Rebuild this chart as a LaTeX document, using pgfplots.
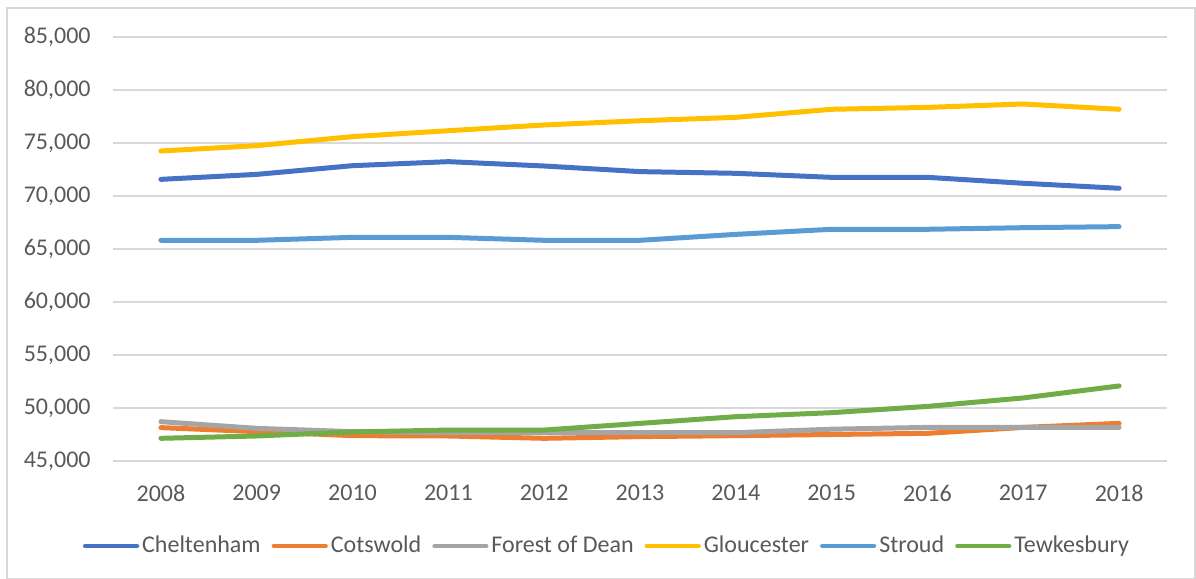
\documentclass[border=0pt]{standalone}
\usepackage{pgfplots}
\pgfplotsset{compat=1.18}
\usepackage{fontspec}
\setmainfont{Carlito}
\definecolor{cChel}{HTML}{4472C4}
\definecolor{cCots}{HTML}{ED7D31}
\definecolor{cFor}{HTML}{A5A5A5}
\definecolor{cGlo}{HTML}{FFC000}
\definecolor{cStr}{HTML}{5B9BD5}
\definecolor{cTew}{HTML}{70AD47}
\definecolor{cGrid}{HTML}{D9D9D9}
\definecolor{cText}{HTML}{595959}
\begin{document}
\begin{tikzpicture}
\path[use as bounding box] (0,0) rectangle (598bp,289.5bp);
\draw[cGrid, line width=1bp] (3.5bp,0.25bp) rectangle (597.5bp,285.5bp);
\begin{axis}[
  at={(56.5bp,59bp)}, anchor=south west,
  scale only axis,
  width=527bp, height=212bp,
  xmin=-0.5, xmax=10.5,
  ymin=45000, ymax=85000,
  xtick={0,...,10},
  xticklabels={2008,2009,2010,2011,2012,2013,2014,2015,2016,2017,2018},
  ytick={45000,50000,...,85000},
  scaled y ticks=false,
  /pgf/number format/.cd, 1000 sep={,}, assume math mode=true,
  /pgfplots/.cd,
  axis line style={draw=none},
  major tick length=0pt,
  ymajorgrids,
  grid style={cGrid, line width=1bp},
  tick label style={font=\fontsize{12bp}{14bp}\selectfont, text=cText},
  yticklabel style={anchor=east, inner sep=0pt, xshift=-11bp},
  xticklabel style={anchor=north, inner sep=0pt, yshift=-12bp},
  legend columns=6,
  legend cell align=left,
  legend style={draw=none, fill=none, at={(0.4677,-0.2005)}, anchor=center,
    font=\fontsize{12bp}{14bp}\selectfont, text=cText,
    inner sep=0pt, nodes={inner sep=0pt},
    /tikz/every odd column/.append style={column sep=1.5bp},
    /tikz/every even column/.append style={column sep=5.5bp}},
  legend image code/.code={\draw[line width=2.2bp, line cap=round, #1] (1.1bp,0bp) -- (27bp,0bp);},
  every axis plot/.append style={line width=2.5bp, line cap=round, line join=round, mark=none},
]
\addplot[cChel] coordinates {(0,71570)(1,72040)(2,72860)(3,73240)(4,72830)(5,72300)(6,72140)(7,71760)(8,71760)(9,71200)(10,70730)};
\addlegendentry{Cheltenham}
\addplot[cCots] coordinates {(0,48150)(1,47770)(2,47390)(3,47360)(4,47140)(5,47300)(6,47390)(7,47500)(8,47610)(9,48170)(10,48550)};
\addlegendentry{Cotswold}
\addplot[cFor] coordinates {(0,48710)(1,48080)(2,47770)(3,47670)(4,47670)(5,47670)(6,47670)(7,48000)(8,48170)(9,48170)(10,48170)};
\addlegendentry{Forest of Dean}
\addplot[cGlo] coordinates {(0,74245)(1,74750)(2,75600)(3,76160)(4,76700)(5,77100)(6,77420)(7,78180)(8,78360)(9,78680)(10,78180)};
\addlegendentry{Gloucester}
\addplot[cStr] coordinates {(0,65820)(1,65820)(2,66100)(3,66100)(4,65820)(5,65820)(6,66380)(7,66860)(8,66860)(9,67010)(10,67110)};
\addlegendentry{Stroud}
\addplot[cTew] coordinates {(0,47140)(1,47360)(2,47740)(3,47920)(4,47920)(5,48550)(6,49180)(7,49560)(8,50150)(9,50950)(10,52080)};
\addlegendentry{Tewkesbury}
\end{axis}
\end{tikzpicture}
\end{document}
